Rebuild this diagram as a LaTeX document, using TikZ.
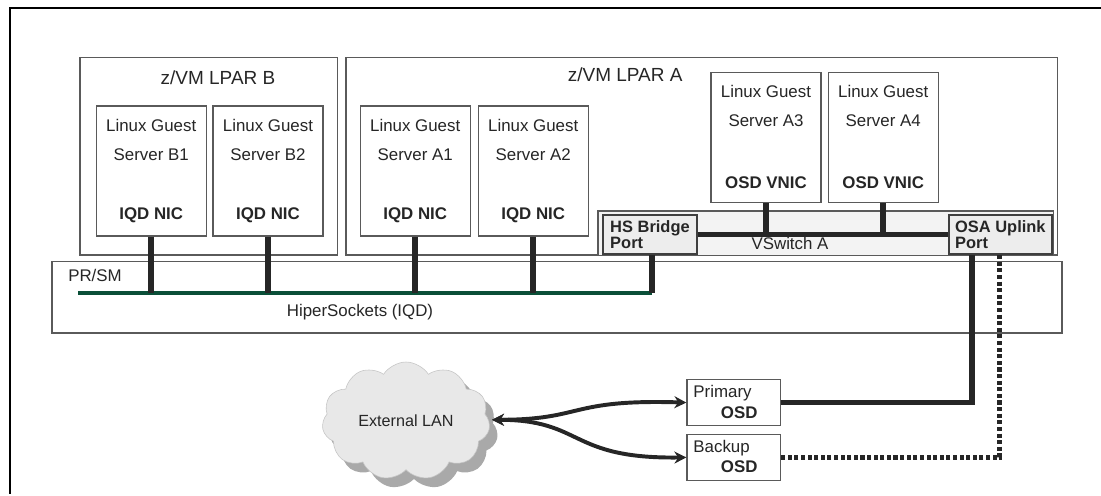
\documentclass[tikz,border=0pt]{standalone}
\usepackage{fontspec}
\setmainfont{Liberation Sans}
\usetikzlibrary{shapes.symbols,arrows.meta}
\definecolor{LnGray}{HTML}{5A5A5A}
\definecolor{TxtGray}{HTML}{262626}
\definecolor{PortFill}{HTML}{EDEDED}
\definecolor{SwFill}{HTML}{F3F3F3}
\definecolor{HsGreen}{HTML}{0A4F38}
\definecolor{CloudFill}{HTML}{E8E8E8}
\definecolor{CloudShade}{HTML}{A9A9A9}
\tikzset{
  boxline/.style={draw=LnGray,line width=0.9pt},
  guestbox/.style={boxline,fill=white,minimum width=2.75cm,minimum height=3.25cm,inner sep=0pt},
  osdbox/.style={boxline,fill=white,minimum width=2.33cm,minimum height=1.15cm,inner sep=0pt},
  portbox/.style={draw=LnGray!70!black,line width=1.3pt,fill=PortFill,minimum height=0.98cm,inner sep=0pt,align=left,text=TxtGray,font=\fontsize{11.7}{11.5}\selectfont\bfseries},
  txt/.style={inner sep=0pt,text=TxtGray,font=\fontsize{12}{14}\selectfont},
  nic/.style={txt,font=\fontsize{12}{14}\selectfont\bfseries},
  title/.style={txt,font=\fontsize{13.5}{15}\selectfont},
  link/.style={draw=black!85,line width=4pt},
  hsline/.style={draw=HsGreen,line width=3.5pt},
  lanarrow/.style={draw=black!85,line width=2.8pt,{Stealth[length=0.3cm,width=0.3cm]}-{Stealth[length=0.3cm,width=0.3cm]}},
  lancloud/.style={cloud,cloud puffs=11,cloud puff arc=115,aspect=1.5,minimum width=4.2cm,minimum height=2.95cm,inner sep=0pt,font=\fontsize{11.5}{13}\selectfont}
}
\begin{document}
\begin{tikzpicture}[x=1cm,y=1cm]
\path[use as bounding box] (0,0) rectangle (27.525,12.375);
\draw[line width=0.8pt] (27.525,12.175) -- (0.25,12.175) -- (0.25,0.025);
\draw[boxline] (2.00,6.00) rectangle (8.43,10.93);
\node[title] (lparBt) at (5.45,10.43) {z/VM LPAR B};
\draw[boxline] (8.65,6.00) rectangle (26.43,10.93);
\node[title] (lparAt) at (15.63,10.50) {z/VM LPAR A};
\draw[boxline,fill=SwFill] (14.95,5.98) rectangle (26.33,7.10);
\draw[boxline] (1.30,4.05) rectangle (26.55,5.83);
\node[txt,anchor=west] (prsm) at (1.70,5.50) {PR/SM};
\node[txt] (hipers) at (9.00,4.58) {HiperSockets (IQD)};
\node[guestbox] (b1) at (3.78,8.10) {};
\node[txt] at ([yshift=1.15cm]b1.center) {Linux Guest};
\node[txt] at ([yshift=0.40cm]b1.center) {Server B1};
\node[nic] at ([yshift=-1.10cm]b1.center) {IQD NIC};
\node[guestbox] (b2) at (6.70,8.10) {};
\node[txt] at ([yshift=1.15cm]b2.center) {Linux Guest};
\node[txt] at ([yshift=0.40cm]b2.center) {Server B2};
\node[nic] at ([yshift=-1.10cm]b2.center) {IQD NIC};
\node[guestbox] (a1) at (10.38,8.10) {};
\node[txt] at ([yshift=1.15cm]a1.center) {Linux Guest};
\node[txt] at ([yshift=0.40cm]a1.center) {Server A1};
\node[nic] at ([yshift=-1.10cm]a1.center) {IQD NIC};
\node[guestbox] (a2) at (13.33,8.10) {};
\node[txt] at ([yshift=1.15cm]a2.center) {Linux Guest};
\node[txt] at ([yshift=0.40cm]a2.center) {Server A2};
\node[nic] at ([yshift=-1.10cm]a2.center) {IQD NIC};
\node[guestbox] (a3) at (19.15,8.93) {};
\node[txt] at ([yshift=1.15cm]a3.center) {Linux Guest};
\node[txt] at ([yshift=0.42cm]a3.center) {Server A3};
\node[nic] at ([yshift=-1.12cm]a3.center) {OSD VNIC};
\node[guestbox] (a4) at (22.08,8.93) {};
\node[txt] at ([yshift=1.15cm]a4.center) {Linux Guest};
\node[txt] at ([yshift=0.42cm]a4.center) {Server A4};
\node[nic] at ([yshift=-1.12cm]a4.center) {OSD VNIC};
\node[portbox,minimum width=2.35cm] (hsb) at (16.25,6.51) {HS Bridge\\Port};
\node[portbox,minimum width=2.58cm] (osa) at (25.01,6.51) {OSA Uplink\\Port};
\node[txt] (vsw) at (19.75,6.28) {VSwitch A};
\coordinate (hsL) at (1.95,5.05);
\coordinate (hsR) at (16.30,5.05);
\draw[hsline] (hsL) -- (hsR);
\draw[link] (b1.south) -- (b1.south |- hsL);
\draw[link] (b2.south) -- (b2.south |- hsL);
\draw[link] (a1.south) -- (a1.south |- hsL);
\draw[link] (a2.south) -- (a2.south |- hsL);
\draw[link] (hsR |- hsb.south) -- (hsR);
\draw[link] (hsb.east) -- (osa.west);
\draw[link] (a3.south) -- (a3.south |- hsb.east);
\draw[link] (a4.south) -- (a4.south |- hsb.east);
\node[osdbox] (primary) at (18.34,2.31) {};
\node[txt,anchor=west] at (17.33,2.55) {Primary};
\node[nic] at (18.48,2.05) {OSD};
\node[osdbox] (backup) at (18.34,0.94) {};
\node[txt,anchor=west] at (17.33,1.18) {Backup};
\node[nic] at (18.48,0.70) {OSD};
\coordinate (upA) at (24.30,2.31);
\coordinate (upB) at (24.98,0.94);
\draw[link,line join=miter] (upA |- osa.south) -- (upA) -- (primary.east);
\draw[link,line join=miter,line width=3.6pt,dash pattern=on 2.9pt off 1.8pt] (upB |- osa.south) -- (upB) -- (backup.east);
\node[lancloud,fill=CloudShade] (lansh) at (10.35,1.62) {\phantom{External LAN}};
\node[lancloud,fill=CloudFill,draw=CloudFill!85!black,line width=0.4pt,text=TxtGray] (lan) at (10.15,1.85) {External LAN};
\coordinate (lanE) at (12.30,1.88);
\draw[lanarrow] (lanE) .. controls (14.6,1.88) and (14.2,2.40) .. (primary.west);
\draw[lanarrow] (lanE) .. controls (14.6,1.88) and (14.2,0.90) .. (backup.west);
\end{tikzpicture}
\end{document}
